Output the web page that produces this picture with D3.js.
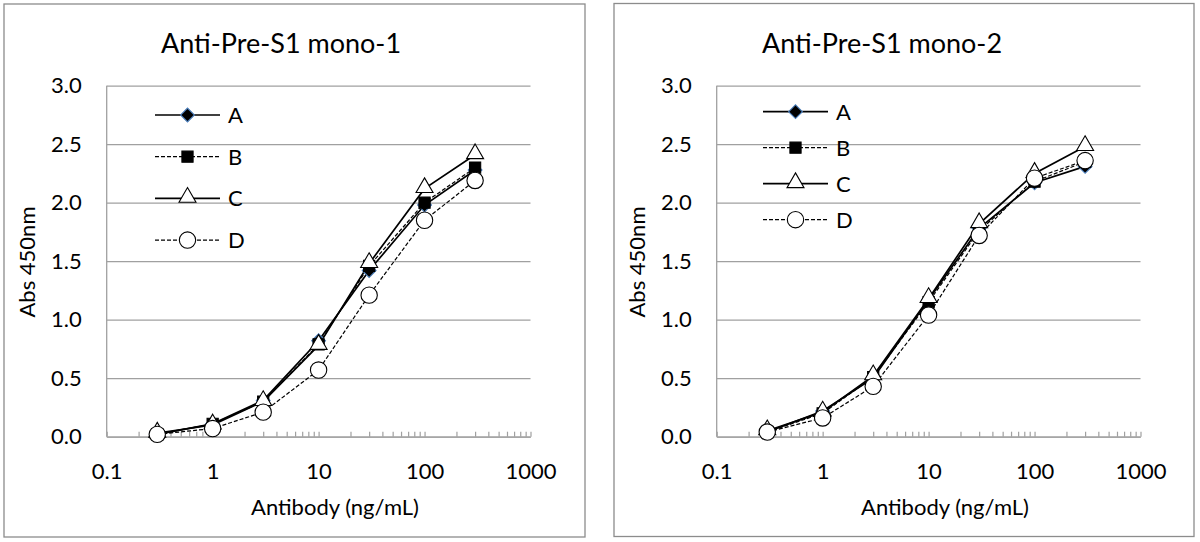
<!DOCTYPE html>
<html>
<head>
<meta charset="utf-8">
<script src="https://cdn.jsdelivr.net/npm/d3@7"></script>
<style>
  body { margin: 0; background: #fff; }
  svg { display: block; font-family: Lato, "Open Sans", sans-serif; }
</style>
</head>
<body>
<svg id="chart" width="1200" height="542"></svg>
<script>
// antibody concentrations (ng/mL)
const concentrations = [0.3, 1, 3, 10, 30, 100, 300];
const seriesNames = ['A', 'B', 'C', 'D'];
const xTickLabels = [0.1, 1, 10, 100, 1000];
const yTickLabels = [0, 0.5, 1, 1.5, 2, 2.5, 3];

// Abs 450nm, mono-1
const mono1A = [0.02, 0.11, 0.31, 0.82, 1.42, 1.98, 2.28];
const mono1B = [0.02, 0.11, 0.30, 0.79, 1.46, 2.00, 2.30];
const mono1C = [0.03, 0.10, 0.30, 0.78, 1.48, 2.12, 2.41];
const mono1D = [0.02, 0.07, 0.21, 0.57, 1.21, 1.85, 2.19];

// Abs 450nm, mono-2
const mono2A = [0.04, 0.22, 0.50, 1.17, 1.78, 2.17, 2.31];
const mono2B = [0.04, 0.20, 0.51, 1.15, 1.76, 2.18, 2.35];
const mono2C = [0.05, 0.21, 0.52, 1.18, 1.82, 2.25, 2.48];
const mono2D = [0.04, 0.16, 0.43, 1.04, 1.72, 2.21, 2.36];

// how each series is drawn
const styles = {
  A: { dash: null, width: 1.7, symbol: 'diamond', fill: '#000', stroke: '#4a7ebb' },
  B: { dash: '4,2', width: 1.2, symbol: 'square', fill: '#000', stroke: '#000' },
  C: { dash: null, width: 1.7, symbol: 'triangle', fill: '#fff', stroke: '#000' },
  D: { dash: '4,2', width: 1.2, symbol: 'circle', fill: '#fff', stroke: '#000' }
};

const panels = [
  { title: 'Anti-Pre-S1 mono-1', series: [mono1A, mono1B, mono1C, mono1D],
    box: { x: 4, y: 4, w: 581, h: 533 }, titleX: 281,
    legend: { x: 155, y: 115, step: 41.7 } },
  { title: 'Anti-Pre-S1 mono-2', series: [mono2A, mono2B, mono2C, mono2D],
    box: { x: 614, y: 3.5, w: 580, h: 533 }, titleX: 882,
    legend: { x: 763, y: 111.7, step: 36 } }
];

const svg = d3.select('#chart');
const gridColor = '#a0a0a0';

function markerPath(type) {
  const sym = {
    diamond: d3.symbol(d3.symbolSquare, 95),
    square: d3.symbol(d3.symbolSquare, 125),
    triangle: d3.symbol(d3.symbolTriangle, 125),
    circle: d3.symbol(d3.symbolCircle, 210)
  }[type];
  return sym();
}

function drawMarker(g, type, x, y, st) {
  g.append('path')
    .attr('d', markerPath(type))
    .attr('transform', `translate(${x},${y})` + (type === 'diamond' ? ' rotate(45)' : '') +
      (type === 'triangle' ? ' translate(0,-1)' : ''))
    .attr('fill', st.fill)
    .attr('stroke', st.stroke)
    .attr('stroke-width', 1.1);
}

function drawPanel(p) {
  const g = svg.append('g');
  const b = p.box;

  // outer frame
  g.append('rect')
    .attr('x', b.x).attr('y', b.y)
    .attr('width', b.w).attr('height', b.h)
    .attr('fill', '#fff')
    .attr('stroke', '#8c8c8c')
    .attr('stroke-width', 1.3);

  const left = b.x + 102.7, right = b.x + 526.5;
  const top = 85.7, bottom = 436.7;

  const x = d3.scaleLog().domain([0.1, 1000]).range([left, right]);
  const y = d3.scaleLinear().domain([0, 3]).range([bottom, top]);

  // horizontal gridlines
  g.append('g')
    .attr('transform', `translate(${left},0)`)
    .call(d3.axisLeft(y).tickValues(yTickLabels).tickFormat('').tickSize(-(right - left)))
    .call((s) => s.select('.domain').remove())
    .call((s) => s.selectAll('line').attr('stroke', gridColor).attr('stroke-width', 1.3));

  // y axis line
  g.append('line')
    .attr('x1', left).attr('x2', left).attr('y1', top).attr('y2', bottom)
    .attr('stroke', gridColor).attr('stroke-width', 1.3);

  // y tick labels
  g.append('g')
    .attr('transform', `translate(${left},0)`)
    .call(d3.axisLeft(y).tickValues(yTickLabels).tickFormat(d3.format('.1f')).tickSize(0).tickPadding(25))
    .call((s) => s.select('.domain').remove())
    .call((s) => s.selectAll('text').attr('font-size', 22).attr('fill', '#000').attr('font-family', 'Lato'));

  // x axis with minor ticks pointing up
  g.append('g')
    .attr('transform', `translate(0,${bottom})`)
    .call(d3.axisBottom(x).ticks(40).tickFormat('').tickSizeInner(-5).tickSizeOuter(0))
    .call((s) => s.select('.domain').attr('stroke', gridColor).attr('stroke-width', 1.3))
    .call((s) => s.selectAll('line').attr('stroke', gridColor).attr('stroke-width', 1.2));

  // x tick labels
  g.append('g')
    .attr('transform', `translate(0,${bottom})`)
    .call(d3.axisBottom(x).tickValues(xTickLabels).tickFormat((d) => String(d)).tickSize(0).tickPadding(27))
    .call((s) => s.select('.domain').remove())
    .call((s) => s.selectAll('text').attr('font-size', 22).attr('fill', '#000').attr('font-family', 'Lato'));

  // titles
  g.append('text')
    .attr('x', p.titleX).attr('y', 52.5)
    .attr('text-anchor', 'middle')
    .attr('font-size', 27)
    .text(p.title);

  g.append('text')
    .attr('x', left + 228.3).attr('y', 515)
    .attr('text-anchor', 'middle')
    .attr('font-size', 22)
    .text('Antibody (ng/mL)');

  g.append('text')
    .attr('transform', `translate(${b.x + 31},262) rotate(-90)`)
    .attr('text-anchor', 'middle')
    .attr('font-size', 22)
    .text('Abs 450nm');

  // series lines
  const line = d3.line()
    .x((d) => x(d[0]))
    .y((d) => y(d[1]));

  p.series.forEach((vals, i) => {
    const st = styles[seriesNames[i]];
    g.append('path')
      .datum(concentrations.map((c, j) => [c, vals[j]]))
      .attr('d', line)
      .attr('fill', 'none')
      .attr('stroke', '#000')
      .attr('stroke-width', st.width)
      .attr('stroke-dasharray', st.dash);
  });

  // markers
  p.series.forEach((vals, i) => {
    const st = styles[seriesNames[i]];
    concentrations.forEach((c, j) => drawMarker(g, st.symbol, x(c), y(vals[j]), st));
  });

  // legend
  const lg = g.append('g');
  seriesNames.forEach((name, i) => {
    const st = styles[name];
    const ly = p.legend.y + i * p.legend.step;
    lg.append('line')
      .attr('x1', p.legend.x).attr('x2', p.legend.x + 65)
      .attr('y1', ly).attr('y2', ly)
      .attr('stroke', '#000')
      .attr('stroke-width', st.width)
      .attr('stroke-dasharray', st.dash);
    drawMarker(lg, st.symbol, p.legend.x + 32.5, ly, st);
    lg.append('text')
      .attr('x', p.legend.x + 73).attr('y', ly)
      .attr('dy', '0.36em')
      .attr('font-size', 22)
      .text(name);
  });
}

panels.forEach(drawPanel);
</script>
</body>
</html>
